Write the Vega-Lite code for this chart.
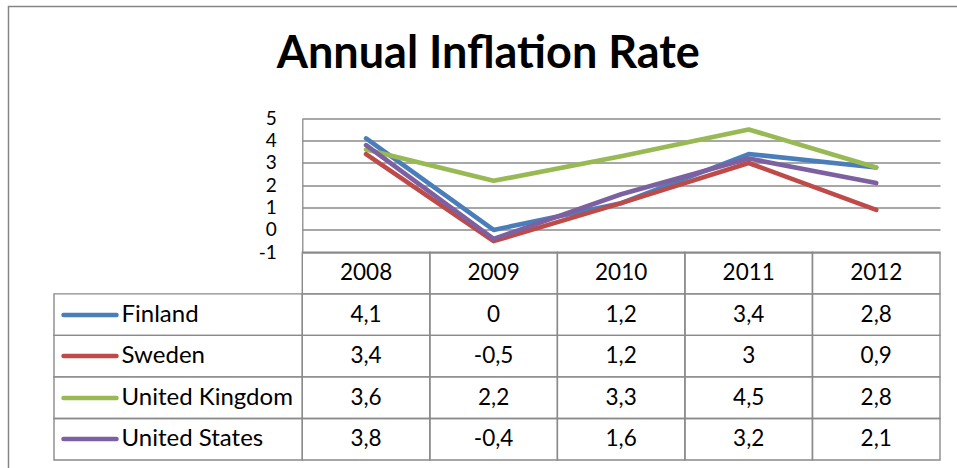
{
  "$schema": "https://vega.github.io/schema/vega-lite/v6.json",
  "width": 950,
  "height": 463,
  "autosize": "none",
  "padding": {"left": 8.5, "top": 6.5, "right": -1.5, "bottom": -1.5},
  "background": "white",
  "title": {
    "text": "Annual Inflation Rate",
    "font": "Lato",
    "fontSize": 45,
    "fontWeight": "bold",
    "color": "black",
    "anchor": "middle",
    "frame": "group",
    "baseline": "alphabetic",
    "offset": -63.5,
    "dx": 4.8,
    "dy": 43
  },
  "datasets": {
    "inflation": [
      {"country": "Finland", "year": "2008", "value": 4.1},
      {"country": "Finland", "year": "2009", "value": 0},
      {"country": "Finland", "year": "2010", "value": 1.2},
      {"country": "Finland", "year": "2011", "value": 3.4},
      {"country": "Finland", "year": "2012", "value": 2.8},
      {"country": "Sweden", "year": "2008", "value": 3.4},
      {"country": "Sweden", "year": "2009", "value": -0.5},
      {"country": "Sweden", "year": "2010", "value": 1.2},
      {"country": "Sweden", "year": "2011", "value": 3},
      {"country": "Sweden", "year": "2012", "value": 0.9},
      {"country": "United Kingdom", "year": "2008", "value": 3.6},
      {"country": "United Kingdom", "year": "2009", "value": 2.2},
      {"country": "United Kingdom", "year": "2010", "value": 3.3},
      {"country": "United Kingdom", "year": "2011", "value": 4.5},
      {"country": "United Kingdom", "year": "2012", "value": 2.8},
      {"country": "United States", "year": "2008", "value": 3.8},
      {"country": "United States", "year": "2009", "value": -0.4},
      {"country": "United States", "year": "2010", "value": 1.6},
      {"country": "United States", "year": "2011", "value": 3.2},
      {"country": "United States", "year": "2012", "value": 2.1}
    ]
  },
  "config": {
    "view": {"stroke": "#868686", "strokeWidth": 1.5},
    "font": "Lato",
    "locale": {
      "number": {"decimal": ",", "thousands": ".", "grouping": [3], "currency": ["", " €"], "minus": "-"}
    }
  },
  "resolve": {
    "scale": {"x": "independent", "y": "independent", "color": "independent"},
    "axis": {"x": "independent", "y": "independent"}
  },
  "layer": [
    {
      "data": {"name": "inflation"},
      "mark": {"type": "line", "strokeWidth": 4.6, "strokeCap": "round", "strokeJoin": "round"},
      "encoding": {
        "x": {
          "field": "year", "type": "nominal",
          "scale": {"type": "band", "domain": ["2008", "2009", "2010", "2011", "2012"], "range": [293.8, 931.5], "paddingInner": 0, "paddingOuter": 0},
          "axis": null
        },
        "y": {
          "field": "value", "type": "quantitative",
          "scale": {"domain": [-1, 5], "range": [245.8, 111.8], "nice": false, "zero": false},
          "axis": {
            "orient": "left", "offset": -293.8, "values": [-1, 0, 1, 2, 3, 4, 5], "format": "d",
            "domain": true, "domainColor": "#8a8a8a", "domainWidth": 1.3,
            "ticks": true, "tickSize": -637.7, "tickColor": "#8a8a8a", "tickWidth": 1.3,
            "grid": false, "title": null,
            "labelFont": "Lato", "labelFontSize": 19, "labelColor": "black",
            "labelPadding": 663.7, "labelOverlap": false, "labelFlush": false
          }
        },
        "color": {
          "field": "country", "type": "nominal",
          "scale": {"domain": ["Finland", "Sweden", "United Kingdom", "United States"], "range": ["#4A7EBB", "#BE4B48", "#98B954", "#7D60A0"]},
          "legend": null
        }
      }
    },
    {
      "data": {"name": "inflation"},
      "layer": [
        {
          "transform": [{"aggregate": [{"op": "count", "as": "n"}], "groupby": ["year"]}],
          "layer": [
            {
              "mark": {"type": "rect", "filled": false, "stroke": "#8a8a8a", "strokeWidth": 1.4},
              "encoding": {
                "x": {"field": "year", "type": "nominal", "scale": {"type": "band", "domain": ["2008", "2009", "2010", "2011", "2012"], "range": [293.8, 931.5], "paddingInner": 0, "paddingOuter": 0}, "axis": null},
                "y": {"datum": "Year", "type": "nominal", "scale": {"type": "band", "domain": ["Year", "Finland", "Sweden", "United Kingdom", "United States"], "range": [245.8, 453.5], "paddingInner": 0, "paddingOuter": 0}, "axis": null}
              }
            },
            {
              "mark": {"type": "text", "font": "Lato", "fontSize": 22.5, "color": "black", "baseline": "middle", "align": "center"},
              "encoding": {
                "x": {"field": "year", "type": "nominal", "axis": null},
                "y": {"datum": "Year", "type": "nominal", "axis": null},
                "text": {"field": "year", "type": "nominal"}
              }
            }
          ]
        },
        {
          "layer": [
            {
              "mark": {"type": "rect", "filled": false, "stroke": "#8a8a8a", "strokeWidth": 1.4},
              "encoding": {
                "x": {"field": "year", "type": "nominal", "axis": null},
                "y": {"field": "country", "type": "nominal", "axis": null}
              }
            },
            {
              "mark": {"type": "text", "font": "Lato", "fontSize": 22.5, "color": "black", "baseline": "middle", "align": "center"},
              "encoding": {
                "x": {"field": "year", "type": "nominal", "axis": null},
                "y": {"field": "country", "type": "nominal", "axis": null},
                "text": {"field": "value", "type": "quantitative", "format": ".1~f"}
              }
            }
          ]
        }
      ]
    },
    {
      "data": {"name": "inflation"},
      "transform": [{"aggregate": [{"op": "count", "as": "n"}], "groupby": ["country"]}],
      "mark": {"type": "rect", "filled": false, "stroke": "#8a8a8a", "strokeWidth": 1.4},
      "encoding": {
        "x": {"datum": "Series", "type": "nominal", "scale": {"type": "band", "domain": ["Series"], "range": [45.5, 293.8], "paddingInner": 0, "paddingOuter": 0}, "axis": null},
        "y": {
          "field": "country", "type": "nominal",
          "scale": {"type": "band", "domain": ["Year", "Finland", "Sweden", "United Kingdom", "United States"], "range": [245.8, 453.5], "paddingInner": 0, "paddingOuter": 0},
          "axis": {
            "orient": "left", "offset": -107.5,
            "values": ["Finland", "Sweden", "United Kingdom", "United States"],
            "domain": false, "grid": false, "title": null,
            "ticks": true, "tickSize": 53, "tickWidth": 4.5, "tickCap": "round",
            "tickColor": {
              "condition": [
                {"test": "datum.value === 'Finland'", "value": "#4A7EBB"},
                {"test": "datum.value === 'Sweden'", "value": "#BE4B48"},
                {"test": "datum.value === 'United Kingdom'", "value": "#98B954"}
              ],
              "value": "#7D60A0"
            },
            "labelAlign": "left", "labelBaseline": "middle", "labelPadding": -58,
            "labelFont": "Lato", "labelFontSize": 24, "labelColor": "black",
            "labelLimit": 400, "labelOverlap": false
          }
        }
      }
    }
  ]
}
